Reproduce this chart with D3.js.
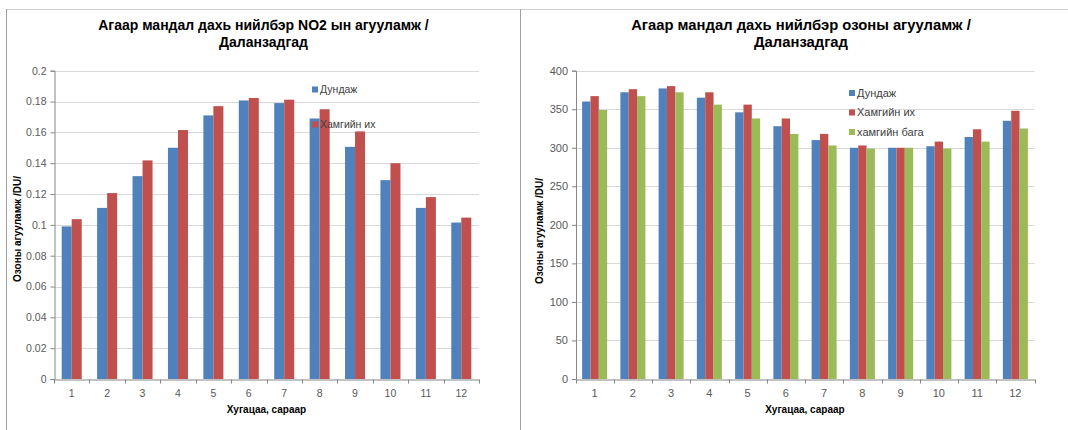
<!DOCTYPE html>
<html><head><meta charset="utf-8">
<script src="https://cdn.jsdelivr.net/npm/d3@7"></script>
<style>
html,body{margin:0;padding:0;background:#fff;}
svg{display:block;}
text{font-family:"Liberation Sans",Arial,sans-serif;}
</style></head>
<body><svg id="c" width="1068" height="430"></svg>
<script>
// ---- data ----
const months = ["1","2","3","4","5","6","7","8","9","10","11","12"];

const no2Title = ["Агаар мандал дахь нийлбэр NO2 ын агууламж /", "Даланзадгад"];
const no2Series = ["Дундаж", "Хамгийн их"];
const no2Avg = [0.099, 0.111, 0.1316, 0.150, 0.171, 0.1807, 0.179, 0.169, 0.1506, 0.129, 0.111, 0.1015];
const no2Max = [0.1037, 0.1206, 0.1418, 0.1615, 0.177, 0.1823, 0.1812, 0.175, 0.1606, 0.140, 0.118, 0.1047];
const no2Ticks = [0, 0.02, 0.04, 0.06, 0.08, 0.1, 0.12, 0.14, 0.16, 0.18, 0.2];

const o3Title = ["Агаар мандал дахь нийлбэр озоны агууламж /", "Даланзадгад"];
const o3Series = ["Дундаж", "Хамгийн их", "хамгийн бага"];
const o3Avg = [360, 372, 377, 365, 346, 328, 310, 300, 300, 302, 314, 335];
const o3Max = [367, 376, 380, 372, 356, 338, 318, 303, 300, 308, 324, 348];
const o3Min = [349, 367, 372, 356, 338, 318, 303, 299, 300, 299, 308, 325];
const o3Ticks = [0, 50, 100, 150, 200, 250, 300, 350, 400];

const yTitle = "Озоны агууламж /DU/";
const xTitle = "Хугацаа, сараар";
const colors = ["#4F81BD", "#C0504D", "#9BBB59"];

// ---- drawing ----
const svg = d3.select("#c");
svg.append("rect").attr("width",1068).attr("height",430).attr("fill","#fff");

// panel borders
svg.append("line").attr("x1",6).attr("x2",1068).attr("y1",9.5).attr("y2",9.5).attr("stroke","#d0d0d0");
svg.append("line").attr("x1",6.5).attr("x2",6.5).attr("y1",9).attr("y2",430).attr("stroke","#a0a0a0");
svg.append("line").attr("x1",520.5).attr("x2",520.5).attr("y1",9).attr("y2",430).attr("stroke","#a0a0a0");

function chart(cfg){
  const g = svg.append("g");
  const y = d3.scaleLinear().domain(cfg.domain).range([379, 70.7]);
  const x = d3.scaleBand().domain(months).range([cfg.x0, cfg.x1])
      .paddingInner(cfg.pad).paddingOuter(cfg.pad/2);
  const xs = d3.scaleBand().domain(d3.range(cfg.series.length)).range([0, x.bandwidth()]);

  // gridlines
  g.append("g").selectAll("line").data(cfg.ticks.filter(t=>t>0)).join("line")
    .attr("x1",cfg.x0).attr("x2",cfg.x1)
    .attr("y1",d=>Math.round(y(d))+0.5).attr("y2",d=>Math.round(y(d))+0.5)
    .attr("stroke","#d9d9d9").attr("stroke-width",1);

  // bars
  cfg.values.forEach((vals, si) => {
    g.append("g").selectAll("rect").data(vals).join("rect")
      .attr("x",(d,i)=>x(months[i]) + xs(si))
      .attr("width", xs.bandwidth())
      .attr("y", d=>y(d))
      .attr("height", d=>y(cfg.domain[0]) - y(d))
      .attr("fill", colors[si]);
  });

  // y axis
  const ya = d3.axisLeft(y).tickValues(cfg.ticks).tickSize(4).tickPadding(4)
     .tickFormat(cfg.fmt);
  const yg = g.append("g").attr("transform",`translate(${cfg.x0 + 0.5},0)`).call(ya);
  yg.select(".domain").attr("stroke","#868686");
  yg.selectAll(".tick line").attr("stroke","#868686");
  yg.selectAll(".tick text").attr("fill","#595959").attr("font-size",cfg.tfs)
    .attr("font-family","Liberation Sans, Arial, sans-serif");

  // x axis
  const xa = d3.axisBottom(x).tickSize(0).tickPadding(10);
  const xg = g.append("g").attr("transform",`translate(0,${379.5})`).call(xa);
  xg.select(".domain").attr("stroke","#868686");
  xg.selectAll(".tick text").attr("fill","#595959").attr("font-size",cfg.tfs)
    .attr("font-family","Liberation Sans, Arial, sans-serif");
  // category boundary ticks
  const bounds = months.map(m => x(m) - x.step()*cfg.pad/2).concat([cfg.x1]);
  xg.append("g").selectAll("line").data(bounds).join("line")
    .attr("x1",d=>Math.round(d)+0.5).attr("x2",d=>Math.round(d)+0.5)
    .attr("y1",0).attr("y2",4).attr("stroke","#868686");

  // title
  g.append("text").attr("x",cfg.tx).attr("y",29.5).attr("text-anchor","middle")
    .attr("font-size",cfg.titfs).attr("font-weight","bold").attr("fill","#000").text(cfg.title[0]);
  g.append("text").attr("x",cfg.tx).attr("y",46.5).attr("text-anchor","middle")
    .attr("font-size",cfg.titfs).attr("font-weight","bold").attr("fill","#000").text(cfg.title[1]);

  // axis titles
  g.append("text").attr("transform",`translate(${cfg.ytx},${cfg.yty}) rotate(-90)`)
    .attr("text-anchor","middle").attr("font-size",10).attr("font-weight","bold")
    .attr("fill","#000").text(yTitle);
  g.append("text").attr("x",(cfg.x0+cfg.x1)/2).attr("y",413).attr("text-anchor","middle")
    .attr("font-size",10).attr("font-weight","bold").attr("fill","#000").text(xTitle);

  // legend
  const lg = g.append("g").selectAll("g").data(cfg.series).join("g")
    .attr("transform",(d,i)=>`translate(${cfg.lx},${cfg.ly + i*cfg.lstep})`);
  lg.append("rect").attr("x",0).attr("y",-3).attr("width",6).attr("height",6)
    .attr("fill",(d,i)=>colors[i]);
  lg.append("text").attr("x",8).attr("y",0).attr("dy","0.35em")
    .attr("font-size",cfg.lfs).attr("fill","#404040").text(d=>d);
}

chart({domain:[0,0.2], ticks:no2Ticks, fmt:d=>String(+d.toFixed(2)),
  x0:54, x1:479, pad:0.435, series:no2Series, values:[no2Avg,no2Max],
  title:no2Title, tx:263.5, ytx:21, yty:229, titfs:14, tfs:10.5,
  lx:312, ly:89.5, lstep:35, lfs:10.5});

chart({domain:[0,400], ticks:o3Ticks, fmt:d=>String(d),
  x0:575.5, x1:1034.5, pad:0.346, series:o3Series, values:[o3Avg,o3Max,o3Min],
  title:o3Title, tx:801, ytx:543, yty:231, titfs:14.8, tfs:11,
  lx:849, ly:93, lstep:19.5, lfs:11});
</script></body></html>
